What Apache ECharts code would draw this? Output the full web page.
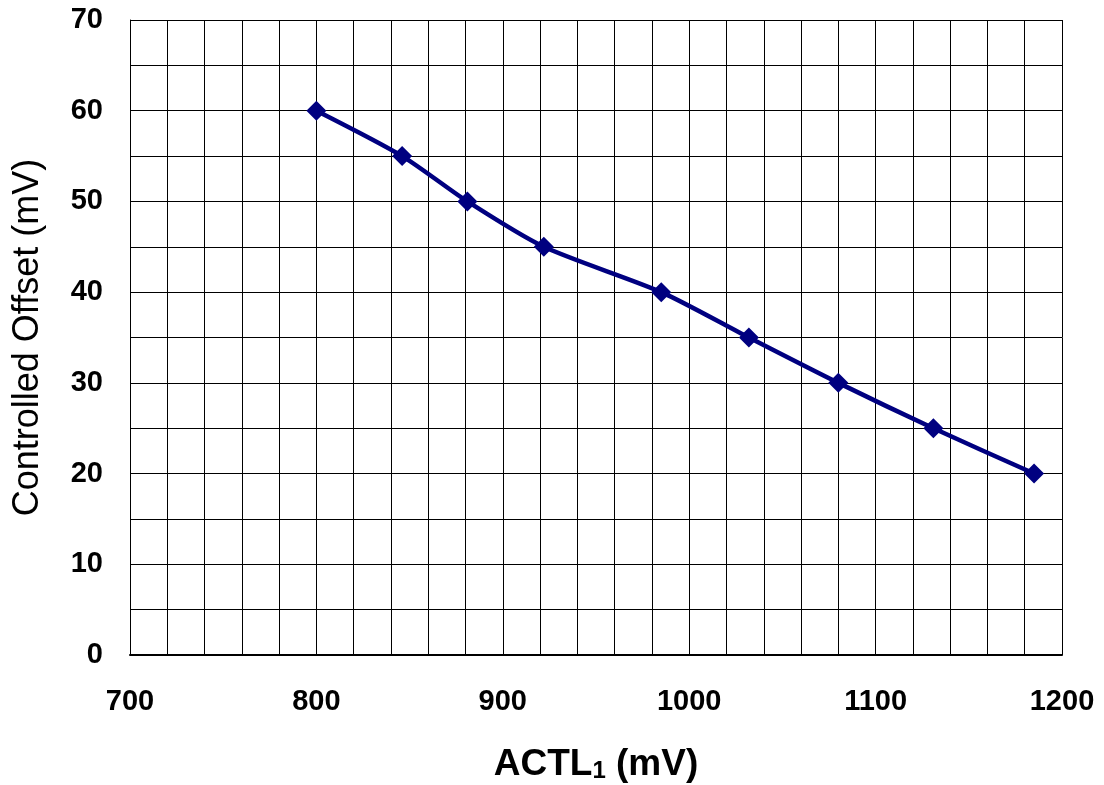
<!DOCTYPE html>
<html>
<head>
<meta charset="utf-8">
<script src="https://cdn.jsdelivr.net/npm/echarts@6/dist/echarts.min.js"></script>
<style>
  html, body { margin: 0; padding: 0; background: #fff; }
  #main { width: 1104px; height: 785px; }
</style>
</head>
<body>
<div id="main"></div>
<script>
// data
var actl = [800, 846, 881, 922, 985, 1032, 1080, 1131, 1185];
var offset = [60, 55, 50, 45, 40, 35, 30, 25, 20];

var points = actl.map(function (x, i) { return [x, offset[i]]; });

var option = {
    backgroundColor: '#fff',
    animation: false,
    grid: { left: 130, right: 42, top: 20, bottom: 130, outerBoundsMode: 'none', containLabel: false },
    xAxis: {
        type: 'value',
        min: 700, max: 1200, interval: 100,
        axisLine: { show: true, lineStyle: { color: '#000', width: 2 } },
        axisTick: { show: false },
        minorTick: { show: false, splitNumber: 5 },
        splitLine: { show: true, lineStyle: { color: '#000', width: 1 } },
        minorSplitLine: { show: true, lineStyle: { color: '#000', width: 1 } },
        axisLabel: {
            margin: 32,
            color: '#000',
            fontFamily: 'Liberation Sans, Arial',
            fontWeight: 'bold',
            fontSize: 29,
            formatter: function (v) { return String(v); }
        },
        name: '{a|ACTL}{s|1}{a| (mV)}',
        nameLocation: 'middle',
        nameGap: 86,
        nameTextStyle: {
            rich: {
                a: { fontFamily: 'Liberation Sans, Arial', fontWeight: 'bold', fontSize: 37, color: '#000', verticalAlign: 'bottom', lineHeight: 42 },
                s: { fontFamily: 'Liberation Sans, Arial', fontWeight: 'bold', fontSize: 24, color: '#000', verticalAlign: 'bottom', lineHeight: 36 }
            }
        }
    },
    yAxis: {
        type: 'value',
        min: 0, max: 70, interval: 10,
        axisLine: { show: true, lineStyle: { color: '#000', width: 1 } },
        axisTick: { show: false },
        minorTick: { show: false, splitNumber: 2 },
        splitLine: { show: true, lineStyle: { color: '#000', width: 1 } },
        minorSplitLine: { show: true, lineStyle: { color: '#000', width: 1 } },
        axisLabel: {
            margin: 27,
            color: '#000',
            fontFamily: 'Liberation Sans, Arial',
            fontWeight: 'bold',
            fontSize: 29
        },
        name: 'Controlled Offset (mV)',
        nameLocation: 'middle',
        nameRotate: 90,
        nameGap: 84,
        nameTextStyle: {
            fontFamily: 'Liberation Sans, Arial',
            fontSize: 36,
            color: '#000'
        }
    },
    series: [{
        type: 'line',
        data: points,
        smooth: 0.25,
        symbol: 'diamond',
        symbolSize: 20,
        lineStyle: { color: '#000080', width: 4.5 },
        itemStyle: { color: '#000080' }
    }]
};

var myChart = echarts.init(document.getElementById('main'));
myChart.setOption(option);
</script>
</body>
</html>
